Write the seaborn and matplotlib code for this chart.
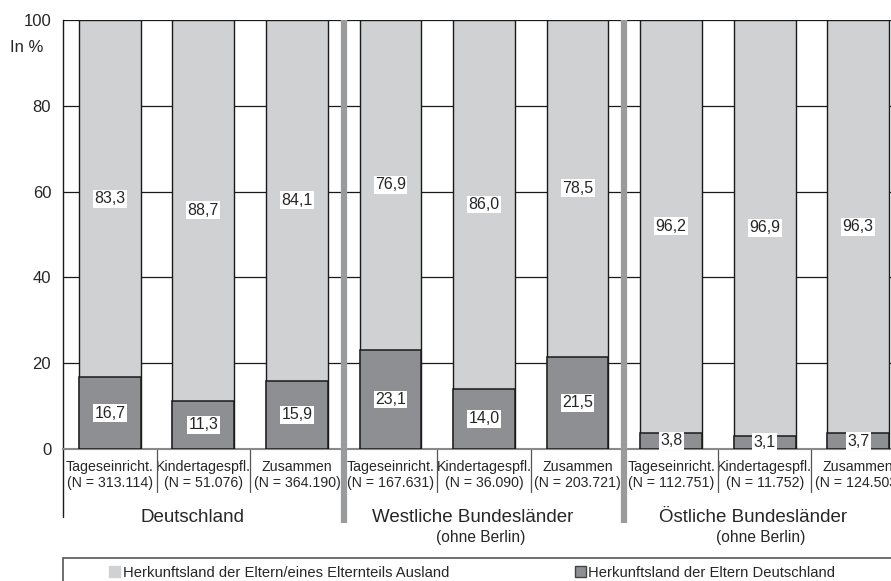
import matplotlib
matplotlib.use("Agg")
import matplotlib.pyplot as plt
import matplotlib.transforms as mtransforms
from matplotlib.patches import Patch, Rectangle
from matplotlib.lines import Line2D
import seaborn as sns
import pandas as pd

# data
kategorien = ["Tageseinricht.", "Kindertagespfl.", "Zusammen"] * 3
n_werte = ["313.114", "51.076", "364.190", "167.631", "36.090", "203.721",
           "112.751", "11.752", "124.503"]
ausland = [83.3, 88.7, 84.1, 76.9, 86.0, 78.5, 96.2, 96.9, 96.3]
deutsch = [16.7, 11.3, 15.9, 23.1, 14.0, 21.5, 3.8, 3.1, 3.7]
gruppen = ["Deutschland", "Westliche Bundesländer", "Östliche Bundesländer"]
gruppen_zusatz = ["", "(ohne Berlin)", "(ohne Berlin)"]
legende = ["Herkunftsland der Eltern/eines Elternteils Ausland",
           "Herkunftsland der Eltern Deutschland"]

hell = "#d0d1d3"
dunkel = "#8e8f93"
trenn = "#9a9b9d"

sns.set_style("white")
plt.rcParams["font.family"] = ["Liberation Sans", "DejaVu Sans"]

labels = [f"{k}\n(N = {n})" for k, n in zip(kategorien, n_werte)]
df = pd.DataFrame({"label": labels,
                   "gesamt": [a + d for a, d in zip(ausland, deutsch)],
                   "ausland": ausland,
                   "deutsch": deutsch})

fig = plt.figure(figsize=(8.91, 5.81), dpi=100)
ax = fig.add_axes([63 / 891, 1 - 449 / 581, 842 / 891, 429 / 581])

sns.barplot(data=df, x="label", y="gesamt", order=labels, color=hell,
            saturation=1, width=0.66, edgecolor="#1a1a1a", linewidth=1.0,
            ax=ax, zorder=3)
sns.barplot(data=df, x="label", y="deutsch", order=labels, color=dunkel,
            saturation=1, width=0.66, edgecolor="#1a1a1a", linewidth=1.1,
            ax=ax, zorder=3)

ax.set_xlim(-0.5, 8.5)
ax.set_ylim(0, 100)
ax.set_yticks([0, 20, 40, 60, 80, 100])
ax.yaxis.grid(True, color="#1a1a1a", linewidth=0.9, zorder=0)
ax.set_axisbelow(True)
ax.tick_params(axis="y", length=0, pad=8.5, labelsize=12)
ax.tick_params(axis="x", length=0, pad=8, labelsize=10.2)
for t in ax.get_xticklabels():
    t.set_linespacing(1.2)
ax.set_xlabel("")
ax.set_ylabel("")
for s in ["top", "right"]:
    ax.spines[s].set_visible(False)
ax.spines["left"].set_color("#1a1a1a")
ax.spines["left"].set_linewidth(1.0)
ax.spines["bottom"].set_color("#8a8a8a")
ax.spines["bottom"].set_linewidth(1.5)

# value labels in white boxes
for i, (a, d) in enumerate(zip(ausland, deutsch)):
    for val, ymid in [(a, d + a / 2), (d, d / 2)]:
        ax.text(i, ymid, f"{val:.1f}".replace(".", ","), ha="center",
                va="center", fontsize=11.5, zorder=5,
                bbox=dict(facecolor="white", edgecolor="none", pad=1.0))

blend = mtransforms.blended_transform_factory(ax.transData, ax.transAxes)
# thin separators between categories
for g in range(3):
    for k in (0.5, 1.5):
        ax.add_line(Line2D([g * 3 + k] * 2, [0, -0.10], transform=blend,
                           color="#555555", linewidth=0.9, clip_on=False))
# thick group separators
for xs in (2.5, 5.5):
    ax.add_line(Line2D([xs, xs], [1, -0.172], transform=blend, color=trenn,
                       linewidth=4.5, clip_on=False, zorder=4,
                       solid_capstyle="butt"))
# left axis continues down
ax.add_line(Line2D([-0.5, -0.5], [0, -0.158], transform=blend,
                   color="#1a1a1a", linewidth=1.0, clip_on=False))

for g, (name, zus) in enumerate(zip(gruppen, gruppen_zusatz)):
    ax.text(g * 3 + 0.88, -0.16, name, transform=blend, ha="center",
            va="center", fontsize=13.5)
    if zus:
        ax.text(g * 3 + 0.96, -0.207, zus, transform=blend, ha="center",
                va="center", fontsize=11.2)

fig.text(10 / 891, 1 - 48 / 581, "In %", ha="left", va="center",
         fontsize=12)

# legend box
fig.add_artist(Rectangle((63 / 891, -0.05), 1.0, 0.05 + (581 - 558) / 581,
                         transform=fig.transFigure, facecolor="white",
                         edgecolor="#555555", linewidth=1.2))
handles = [Patch(facecolor=hell, edgecolor=hell),
           Patch(facecolor=dunkel, edgecolor="#444444")]
fig.legend(handles, legende, loc="center left",
           bbox_to_anchor=(109 / 891, 1 - 573 / 581), ncol=2, frameon=False,
           fontsize=10.6, handlelength=0.75, handleheight=0.75,
           handletextpad=0.2, columnspacing=8.5, borderaxespad=0,
           borderpad=0)

fig.savefig("out.png", dpi=100)
